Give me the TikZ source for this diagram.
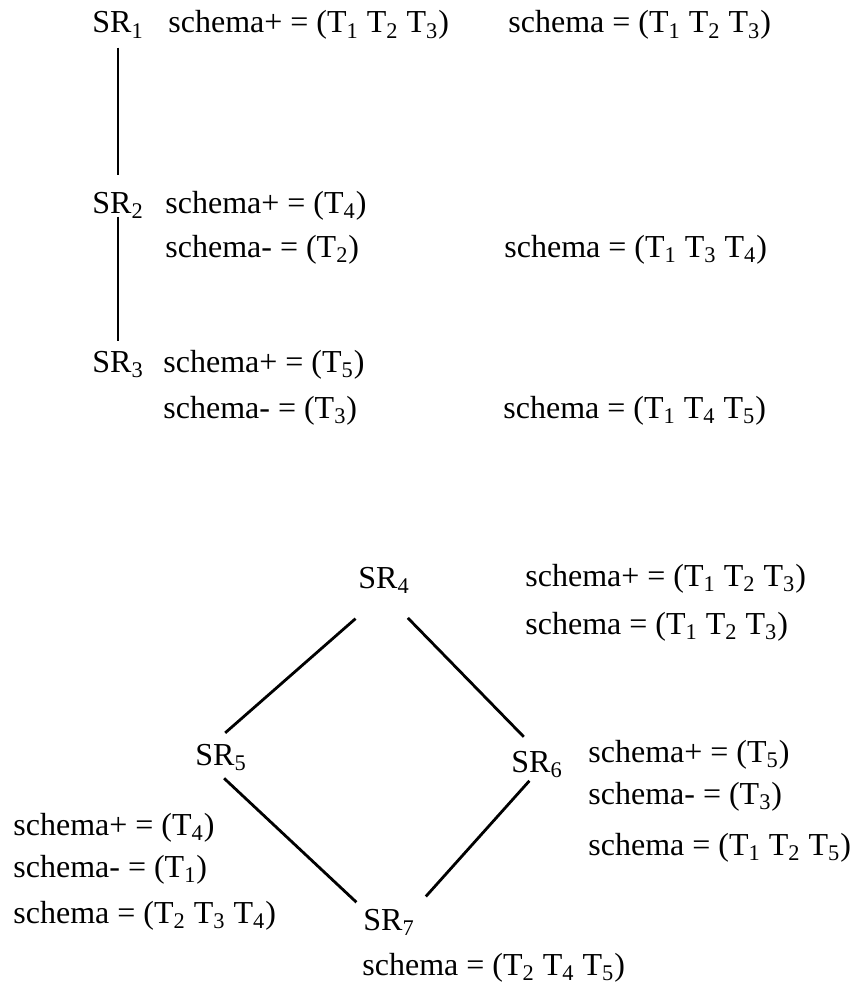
\documentclass[tikz,border=0pt]{standalone}
\usepackage{fontspec}
\setmainfont{Liberation Serif}
\usepackage{tikz}
\newcommand{\tb}[1]{T\textsubscript{#1}}
\newcommand{\sr}[1]{SR\textsubscript{#1}}

\begin{document}
\begin{tikzpicture}[
      x=0.5pt, y=-0.5pt,
      font=\fontsize{16}{19}\selectfont,
      rel/.style={anchor=base west, inner sep=0pt},
      sch/.style={anchor=base west, inner sep=0pt},
      link/.style={line width=1.4pt}
    ]
      \useasboundingbox (0,0) rectangle (853,990);
      % chain of schema revisions
      \node[rel] (sr1) at (92, 33) {\sr{1}};
      \node[rel] (sr2) at (92, 213) {\sr{2}};
      \node[rel] (sr3) at (92, 372) {\sr{3}};
      \node[sch] (p1) at (168, 33) {schema+ = (\tb{1} \tb{2} \tb{3})};
      \node[sch] (s1) at (508, 33) {schema = (\tb{1} \tb{2} \tb{3})};
      \node[sch] (p2) at (165, 213) {schema+ = (\tb{4})};
      \node[sch] (m2) at (165, 257) {schema- = (\tb{2})};
      \node[sch] (s2) at (504, 257) {schema = (\tb{1} \tb{3} \tb{4})};
      \node[sch] (p3) at (163, 372) {schema+ = (\tb{5})};
      \node[sch] (m3) at (163, 418) {schema- = (\tb{3})};
      \node[sch] (s3) at (503, 418) {schema = (\tb{1} \tb{4} \tb{5})};
      \draw[link, shorten <=4.5pt, shorten >=8pt] (sr1) -- (sr2);
      \draw[link, shorten <=-1pt, shorten >=4.5pt] (sr2) -- (sr3);
      % branching revisions
      \node[rel] (sr4) at (358, 588) {\sr{4}};
      \node[rel] (sr5) at (195, 765) {\sr{5}};
      \node[rel] (sr6) at (511, 772) {\sr{6}};
      \node[rel] (sr7) at (363, 930) {\sr{7}};
      \node[sch] (p4) at (525, 586) {schema+ = (\tb{1} \tb{2} \tb{3})};
      \node[sch] (s4) at (525, 634) {schema = (\tb{1} \tb{2} \tb{3})};
      \node[sch] (p6) at (588, 762) {schema+ = (\tb{5})};
      \node[sch] (m6) at (588, 804) {schema- = (\tb{3})};
      \node[sch] (s6) at (588, 855) {schema = (\tb{1} \tb{2} \tb{5})};
      \node[sch] (p5) at (13, 835) {schema+ = (\tb{4})};
      \node[sch] (m5) at (13, 877) {schema- = (\tb{1})};
      \node[sch] (s5) at (13, 923) {schema = (\tb{2} \tb{3} \tb{4})};
      \node[sch] (s7) at (362, 975) {schema = (\tb{2} \tb{4} \tb{5})};
      \draw[link, shorten <=19pt, shorten >=8pt] (sr4.south) -- (sr5.120);
      \draw[link, shorten <=17pt, shorten >=9.5pt] (sr4.south) -- (sr6.north);
      \draw[link, shorten <=5.5pt, shorten >=4.5pt] (sr5.250) -- (sr7.north west);
      \draw[link, shorten <=2pt, shorten >=8pt] (sr6.250) -- (sr7.north east);
    \end{tikzpicture}
\end{document}
